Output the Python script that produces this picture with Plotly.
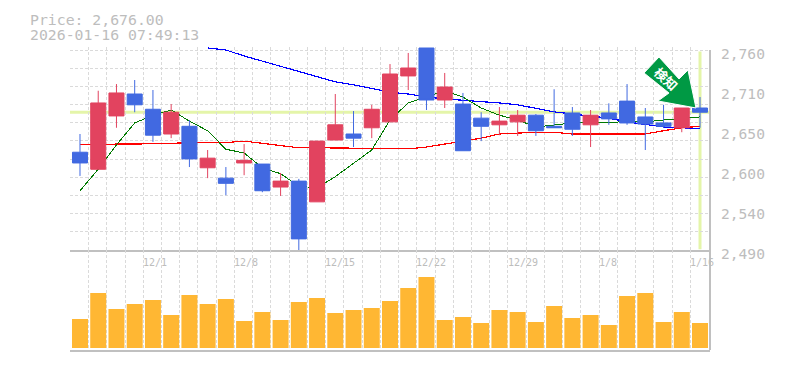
import plotly.graph_objects as go

dates = ["11/25","11/26","11/27","11/28","12/1","12/2","12/3","12/4","12/5","12/8","12/9","12/10",
         "12/11","12/12","12/15","12/16","12/17","12/18","12/19","12/22","12/23","12/24","12/25",
         "12/26","12/29","12/30","1/5","1/6","1/7","1/8","1/9","1/13","1/14","1/15","1/16"]
opens = [2622,2599,2671,2700.6,2680,2646.6,2657,2601,2587,2607.5,2606,2575,2583,2555,2638.5,2646.6,2655,2663,2725,
         2762.7,2692.5,2687,2668,2659,2663,2672,2657,2675,2659,2675,2691,2669.6,2661.5,2655,2681.7]
highs = [2646.6,2705,2714,2719.5,2706,2687,2665.5,2625,2602,2633,2606,2594,2586,2637,2700.6,2677.6,2686,2741,2756,
         2762.7,2729,2702,2676,2683,2679,2673.6,2707,2683,2679,2688,2714,2681.7,2686,2681.7,2696.5]
lows = [2590,2599,2655,2676,2636,2641,2602,2587,2564,2591,2568,2563,2490,2555,2638.5,2629,2641,2663,2706,
        2679,2681.7,2624,2637,2645,2644,2644,2655,2644,2629,2659,2659,2625,2655,2649,2655]
closes = [2607.5,2688.5,2702,2686,2645,2676,2613,2614,2580,2611,2570,2583,2505,2637,2659,2641,2680,2727.6,2735.7,
          2692.5,2710,2624,2657,2664,2672,2651,2655,2653,2672,2667,2661.5,2660,2657,2681.7,2676]
ma_short = [2570,2599,2632,2661.5,2672,2679,2664,2651,2626,2621,2601,2593,2576,2574,2589,2607.5,2625,2665.5,2688.5,
            2696.5,2705,2696.5,2681.7,2672,2665.5,2656,2659,2661.5,2661.5,2661.5,2664,2663,2665.5,2668,2669.6]
ma_mid = [2632,2633,2633,2633,2633,2634,2635,2635,2635,2637,2634,2631,2628,2628,2628,2627.5,2626.5,2626.5,2626.5,
          2629,2633,2636,2641,2646.6,2648,2649,2649,2646.6,2646.6,2646.6,2646.6,2646.6,2651,2655,2657]
ma_long = [None]*7 + [2762.7,2760,2752,2745,2738,2731.5,2725,2717,2713,2708.5,2703,2700.6,2696.5,2694,2692.5,
                      2690,2688.5,2686,2681.7,2676.5,2673.6,2671,2668,2663,2660,2656,2655,2654]
volume = [29,55,39,44,48,33,53,44,49,27,36,28,46,50,35,38,40,47,60,71,28,31,25,38,36,26,42,30,33,23,52,55,26,36,25]

ref_price = 2676
panel_top = 2490 + 203 * 1.35
price_grid = [2490 + 270 * i / 11 for i in range(12)]
price_ticks = [2760, 2706, 2652, 2598, 2544, 2490]
price_labels = ["2,760", "2,710", "2,650", "2,600", "2,540", "2,490"]
date_ticks = ["12/1", "12/8", "12/15", "12/22", "12/29", "1/8", "1/16"]
arrow_px = [(659, 57), (644, 73), (669, 93), (658, 101), (696, 108), (688, 70), (679, 79)]

RED, BLUE, ORANGE = "#E2435F", "#4169E1", "#FFB733"
GRID, EDGE, TEXT, HILITE = "#dadada", "#c0c0c0", "#bdbdbd", "#E4F5A9"
MONO = "DejaVu Sans Mono"
xs = list(range(len(dates)))
xr = [-0.548, 34.548]
split = 100 / 303

fig = go.Figure()
fig.add_bar(x=xs, y=volume, marker=dict(color=ORANGE, line_width=0), width=0.877, xaxis="x2", yaxis="y2",
            hoverinfo="skip")
fig.add_scatter(x=xs, y=ma_long, mode="lines", line=dict(color="#0000ff", width=1.2), xaxis="x", yaxis="y")
fig.add_scatter(x=xs, y=ma_mid, mode="lines", line=dict(color="#ff0000", width=1.2), xaxis="x", yaxis="y")
fig.add_scatter(x=xs, y=ma_short, mode="lines", line=dict(color="#007a00", width=1), xaxis="x", yaxis="y")
fig.add_candlestick(x=xs, open=opens, high=highs, low=lows, close=closes, xaxis="x", yaxis="y3",
                    increasing=dict(line=dict(color=RED, width=1), fillcolor=RED),
                    decreasing=dict(line=dict(color=BLUE, width=1), fillcolor=BLUE),
                    whiskerwidth=0)

grid_x = [i - 0.53 for i in range(len(dates))]
xax = dict(range=xr, tickmode="array", tickvals=grid_x, showticklabels=False, ticks="", showgrid=True,
           gridcolor=GRID, griddash="3px,2px", gridwidth=1, showline=True, linecolor=EDGE, linewidth=2,
           zeroline=False, rangeslider=dict(visible=False), fixedrange=True)
arrow_path = "M " + " L ".join("%.4f %.4f" % ((px - 70) / 640, (350 - py) / 303) for px, py in arrow_px) + " Z"
fig.update_layout(
    width=785, height=370, margin=dict(l=70, r=75, t=47, b=20, autoexpand=False),
    paper_bgcolor="white", plot_bgcolor="white", showlegend=False, boxgap=0.177, boxgroupgap=0,
    xaxis=dict(**xax, anchor="y"),
    xaxis2=dict(**xax, anchor="y2"),
    yaxis=dict(domain=[split, 1], range=[2490, panel_top], tickmode="array", tickvals=price_grid,
               showticklabels=False, ticks="", showgrid=True, gridcolor=GRID, griddash="3px,2px",
               gridwidth=1, zeroline=False, anchor="x"),
    yaxis2=dict(domain=[0, split], range=[-2, 98], showticklabels=False, ticks="", showgrid=False,
                zeroline=False, anchor="x2"),
    yaxis3=dict(overlaying="y", range=[2490, panel_top], visible=False, anchor="x"),
    shapes=[
        dict(type="rect", xref="paper", yref="paper", x0=-0.01, x1=1.01, y0=1 - 2.6 / 303, y1=1.01,
             fillcolor="white", line_width=0, layer="below"),
        dict(type="line", xref="x", yref="y", x0=xr[0], x1=xr[1], y0=ref_price, y1=ref_price,
             line=dict(color=HILITE, width=3), layer="below"),
        dict(type="line", xref="x", yref="y", x0=xs[-1], x1=xs[-1], y0=2491, y1=2758,
             line=dict(color=HILITE, width=3), layer="below"),
        dict(type="line", xref="paper", yref="paper", x0=1, x1=1, y0=0, y1=1 - 3 / 303,
             line=dict(color=EDGE, width=2), layer="above"),
        dict(type="path", xref="paper", yref="paper", layer="above", fillcolor="#009944",
             line=dict(color="white", width=1), path=arrow_path),
    ],
)
ann = []
for v, t in zip(price_ticks, price_labels):
    ann.append(dict(xref="paper", yref="y", x=1, y=v, xshift=9, yshift=-3, text=t, showarrow=False,
                    xanchor="left", yanchor="middle", font=dict(family=MONO, size=14.6, color=TEXT)))
for t in date_ticks:
    ann.append(dict(xref="x", yref="y", x=dates.index(t) - 0.5, y=2490, xshift=-3, yshift=-12, text=t,
                    showarrow=False, xanchor="left", yanchor="middle",
                    font=dict(family=MONO, size=10, color=TEXT)))
ann.append(dict(xref="paper", yref="paper", x=0, y=(350 - 9) / 303, xshift=-42,
                text="Price: 2,676.00<br>2026-01-16 07:49:13", align="left",
                showarrow=False, xanchor="left", yanchor="top",
                font=dict(family=MONO, size=14.8, color=TEXT)))
ann.append(dict(xref="paper", yref="paper", x=(666 - 70) / 640, y=(350 - 79) / 303, text="<b>検知</b>",
                showarrow=False, textangle=43, xanchor="center", yanchor="middle",
                font=dict(family="Noto Sans CJK JP", size=13, color="#ffffff")))
fig.update_layout(annotations=ann)
fig.write_html("out.html", config=dict(displayModeBar=False),
               post_script="document.body.style.margin='0';document.body.style.overflow='hidden';"
                           "document.querySelectorAll('.scatterlayer .js-line').forEach(function(e){e.style.shapeRendering='crispEdges';});"
                           "document.querySelectorAll('.annotation-text tspan.line').forEach(function(e){var d=parseFloat(e.getAttribute('dy')||'0');if(d>0){e.setAttribute('dy','1em');}});")
